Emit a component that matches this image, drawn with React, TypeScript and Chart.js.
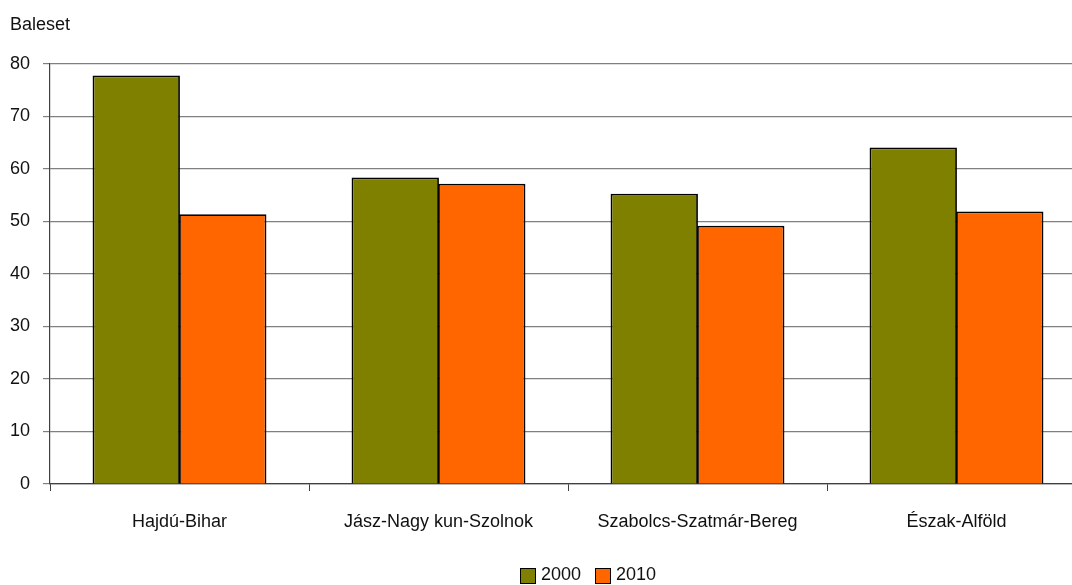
import React, { useEffect, useRef } from "react";
import { Chart, registerables } from "chart.js";

Chart.register(...registerables);

const categories = ["Hajdú-Bihar", "Jász-Nagy kun-Szolnok", "Szabolcs-Szatmár-Bereg", "Észak-Alföld"];
const series2000 = [77.8, 58.4, 55.3, 64.1];
const series2010 = [51.4, 57.2, 49.2, 51.9];
const seriesLabels = ["2000", "2010"];
const seriesColors = ["#808000", "#FF6600"];
const yTicks = [0, 10, 20, 30, 40, 50, 60, 70, 80];
const yTitle = "Baleset";

const FONT = "'Liberation Sans', Arial, sans-serif";

export default function App() {
  const canvasRef = useRef<HTMLCanvasElement | null>(null);

  useEffect(() => {
    const canvas = canvasRef.current;
    if (!canvas) return;
    const barStyle = {
      borderColor: "#000000",
      borderWidth: 1.8,
      categoryPercentage: 0.668,
      barPercentage: 1.01,
    };
    const chart = new Chart(canvas, {
      type: "bar",
      data: {
        labels: categories,
        datasets: [
          { label: seriesLabels[0], data: series2000, backgroundColor: seriesColors[0], ...barStyle },
          { label: seriesLabels[1], data: series2010, backgroundColor: seriesColors[1], ...barStyle },
        ],
      },
      options: {
        animation: false,
        responsive: false,
        maintainAspectRatio: false,
        layout: { padding: { left: 0, right: 14, top: 64, bottom: 40 } },
        plugins: {
          legend: { display: false },
          tooltip: { enabled: false },
          title: { display: false },
        },
        scales: {
          x: {
            grid: {
              display: true,
              drawOnChartArea: false,
              drawTicks: true,
              tickLength: 7,
              color: "#404040",
              offset: true,
            },
            border: { display: true, color: "#404040", width: 1.2 },
            ticks: {
              color: "#111111",
              font: { family: FONT, size: 18 },
              padding: 20,
              maxRotation: 0,
              autoSkip: false,
            },
            afterFit: (scale: any) => {
              scale.height = 61;
            },
          },
          y: {
            min: 0,
            max: 80,
            afterBuildTicks: (scale: any) => {
              scale.ticks = yTicks.map((v) => ({ value: v }));
            },
            grid: {
              color: "#808080",
              lineWidth: 1.2,
              drawTicks: true,
              tickLength: 7,
            },
            border: { display: true, color: "#404040", width: 1.2 },
            ticks: {
              color: "#111111",
              font: { family: FONT, size: 18 },
              padding: 13,
            },
            afterFit: (scale: any) => {
              scale.width = 50;
            },
          },
        },
      },
    });
    return () => chart.destroy();
  }, []);

  return (
    <div
      style={{
        position: "absolute",
        left: 0,
        top: 0,
        width: 1072,
        height: 585,
        overflow: "hidden",
        background: "#ffffff",
        fontFamily: FONT,
        color: "#111111",
      }}
    >
      <canvas ref={canvasRef} width={1100} height={585} style={{ position: "absolute", left: 0, top: 0 }} />
      <div style={{ position: "absolute", left: 10, top: 14, fontSize: 18, lineHeight: "20px" }}>{yTitle}</div>
      <div
        style={{
          position: "absolute",
          left: 520,
          top: 564,
          display: "flex",
          alignItems: "center",
          fontSize: 18,
          lineHeight: "20px",
        }}
      >
        {seriesLabels.map((lab, i) => (
          <div key={lab} style={{ display: "flex", alignItems: "center", marginRight: 14 }}>
            <span
              style={{
                display: "inline-block",
                width: 14,
                height: 14,
                background: seriesColors[i],
                border: "1px solid #000",
                marginRight: 5,
                marginTop: 4,
              }}
            />
            <span>{lab}</span>
          </div>
        ))}
      </div>
    </div>
  );
}
